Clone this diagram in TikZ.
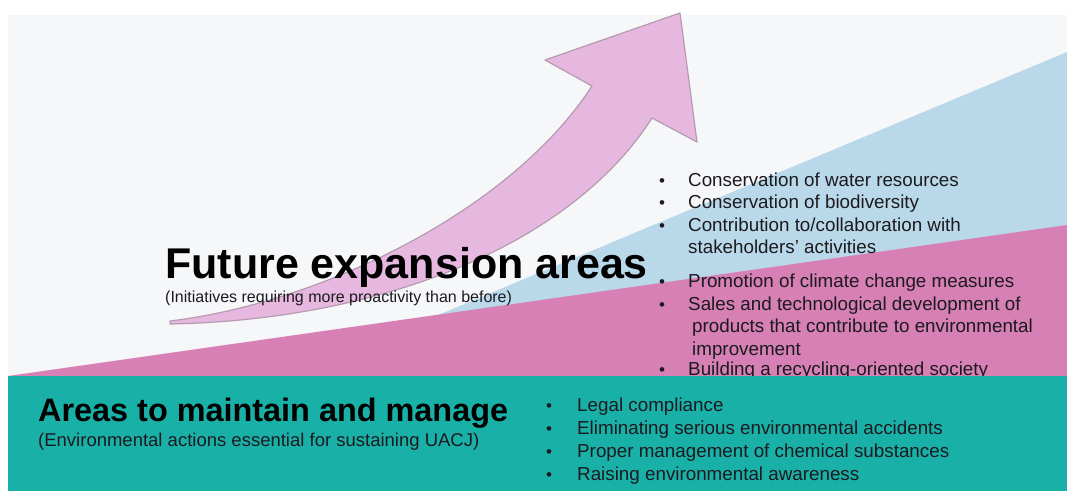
\documentclass[tikz,border=0pt]{standalone}
\usepackage{fontspec}
\setmainfont{Liberation Sans}
\definecolor{bggray}{HTML}{F6F7F8}
\definecolor{blueband}{HTML}{B9D9EA}
\definecolor{pinkband}{HTML}{D680B6}
\definecolor{tealband}{HTML}{19B0A8}
\definecolor{arrowfill}{HTML}{E6B8DF}
\definecolor{arrowline}{HTML}{B69AB0}
\definecolor{txt}{HTML}{1C1A1E}
\tikzset{
  bigtitle/.style={anchor=base west, inner sep=0pt, font=\fontsize{43}{50}\selectfont\bfseries, text=black},
  midtitle/.style={anchor=base west, inner sep=0pt, font=\fontsize{32.4}{38}\selectfont\bfseries, text=black},
  subnote/.style={anchor=base west, inner sep=0pt, text=txt},
  item/.style={anchor=base west, inner sep=0pt, font=\fontsize{18.8}{22.5}\selectfont, text=txt},
  bul/.style={anchor=base, inner sep=0pt, font=\fontsize{17}{19}\selectfont, text=txt},
  arrowshape/.style={fill=arrowfill, draw=arrowline, line width=1.2pt, line join=round}
}
\begin{document}
\begin{tikzpicture}[x=1pt,y=-1pt]
\useasboundingbox (0,0) rectangle (1067,491);
\fill[white] (0,0) rectangle (1067,491);
\fill[bggray] (8,15) rectangle (1067,491);
% bands
\fill[blueband] (290,377) -- (1067,52) -- (1067,377) -- cycle;
\fill[pinkband] (8,376) -- (1067,225) -- (1067,377) -- cycle;
% arrow
\path[arrowshape] (170,321) .. controls (320,303) and (510,212) .. (592,86)
  -- (545,60) -- (680,13) -- (697,142) -- (652,118)
  .. controls (570,246) and (380,320) .. (170,324) -- cycle;
% titles
\node[bigtitle] (fut) at (165,278) {Future expansion areas};
\node[subnote, font=\fontsize{16}{19}\selectfont] (futsub) at (165,302) {(Initiatives requiring more proactivity than before)};
% upper list
\node[bul] (b1) at (662,186.5) {•};
\node[item] (u1) at (688,186.5) {Conservation of water resources};
\node[bul] (b2) at (662,208.5) {•};
\node[item] (u2) at (688,208.5) {Conservation of biodiversity};
\node[bul] (b3) at (662,231) {•};
\node[item] (u3) at (688,231) {Contribution to/collaboration with};
\node[item] (u3b) at (688,253.5) {stakeholders' activities};
\node[bul] (b4) at (662,287.5) {•};
\node[item] (u4) at (688,287.5) {Promotion of climate change measures};
\node[bul] (b5) at (662,310) {•};
\node[item] (u5) at (688,310) {Sales and technological development of};
\node[item] (u5b) at (692,332.5) {products that contribute to environmental};
\node[item] (u5c) at (692,355) {improvement};
\node[bul] (b6) at (662,375.5) {•};
\node[item] (u6) at (688,375.5) {Building a recycling-oriented society};
% teal band
\fill[tealband] (8,376) rectangle (1067,491);
\node[midtitle] (main) at (38,421) {Areas to maintain and manage};
\node[subnote, font=\fontsize{18.5}{22}\selectfont] (mainsub) at (38,446) {(Environmental actions essential for sustaining UACJ)};
% lower list
\node[bul] (c1) at (549,411.5) {•};
\node[item] (l1) at (577,411.5) {Legal compliance};
\node[bul] (c2) at (549,434.5) {•};
\node[item] (l2) at (577,434.5) {Eliminating serious environmental accidents};
\node[bul] (c3) at (549,457.5) {•};
\node[item] (l3) at (577,457.5) {Proper management of chemical substances};
\node[bul] (c4) at (549,480) {•};
\node[item] (l4) at (577,480) {Raising environmental awareness};
\end{tikzpicture}
\end{document}
